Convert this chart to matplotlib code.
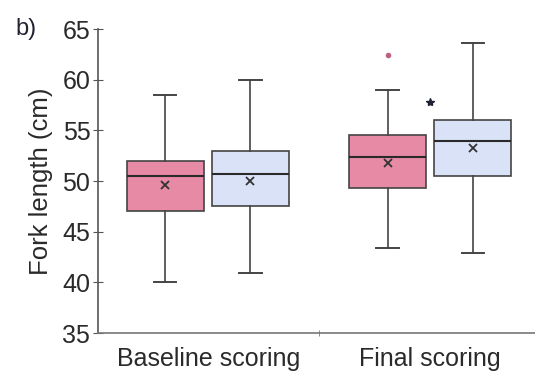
import matplotlib
matplotlib.use("Agg")
import matplotlib.pyplot as plt
from matplotlib.ticker import FixedLocator

plt.rcParams['font.family'] = ['Liberation Sans', 'DejaVu Sans']

groups = ["Baseline scoring", "Final scoring"]
series_colors = ["#e68aa6", "#dae2f8"]
# per box: [group, series]
q1 =      [47.0, 47.5, 49.3, 50.5]
median =  [50.5, 50.7, 52.4, 53.9]
q3 =      [52.0, 53.0, 54.5, 56.0]
whislo =  [40.0, 40.9, 43.4, 42.9]
whishi =  [58.5, 60.0, 59.0, 63.6]
means =   [49.6, 50.0, 51.8, 53.3]
fliers =  [[], [], [62.4], []]
star_pos = (2.0, 57.8)

positions = [0.805, 1.19, 1.81, 2.195]
box_colors = [series_colors[0], series_colors[1], series_colors[0], series_colors[1]]

fig = plt.figure(figsize=(5.35, 3.71), dpi=100)
ax = fig.add_axes([98/535, 38/371, 442/535, 304/371])

stats = []
for i in range(4):
    stats.append(dict(med=median[i], q1=q1[i], q3=q3[i], whislo=whislo[i],
                      whishi=whishi[i], mean=means[i], fliers=fliers[i]))

edge = "#444444"
bp = ax.bxp(stats, positions=positions, widths=0.35, showmeans=True,
            patch_artist=True, capwidths=0.1,
            boxprops=dict(edgecolor=edge, linewidth=1.2),
            medianprops=dict(color="#2a2a2a", linewidth=1.5),
            whiskerprops=dict(color=edge, linewidth=1.2),
            capprops=dict(color=edge, linewidth=1.4),
            meanprops=dict(marker='x', markeredgecolor="#333333", markersize=6, markeredgewidth=1.3),
            flierprops=dict(marker='o', markerfacecolor="#c06080", markeredgecolor="#c06080", markersize=3))
for patch, c in zip(bp['boxes'], box_colors):
    patch.set_facecolor(c)

ax.plot([star_pos[0]], [star_pos[1]], marker='*', color="#1e2233", markersize=6, linestyle='none')

ax.set_xlim(0.5, 2.5)
ax.set_ylim(35, 65)
ax.set_yticks(range(35, 70, 5))
ax.set_xticks([1, 2])
ax.set_xticklabels(groups, fontsize=18)
ax.xaxis.set_minor_locator(FixedLocator([1.5]))
ax.tick_params(axis='x', which='major', length=0, pad=10)
ax.tick_params(axis='x', which='minor', direction='inout', length=5, color="#777777")
ax.tick_params(axis='y', direction='inout', length=7, labelsize=18, pad=2, color="#555555")
for lab in ax.get_yticklabels():
    lab.set_color("#2a2a2a")
for lab in ax.get_xticklabels():
    lab.set_color("#2a2a2a")

ax.spines['top'].set_visible(False)
ax.spines['right'].set_visible(False)
ax.spines['left'].set_color("#555555")
ax.spines['bottom'].set_color("#777777")
ax.spines['left'].set_linewidth(1.2)
ax.spines['bottom'].set_linewidth(1.2)

ax.set_ylabel("Fork length (cm)", fontsize=18.5, color="#2a2a2a", labelpad=7)
fig.text(15/535, 1 - 35/371, "b)", fontsize=17, color="#222233")

fig.savefig("out.png", dpi=100)
